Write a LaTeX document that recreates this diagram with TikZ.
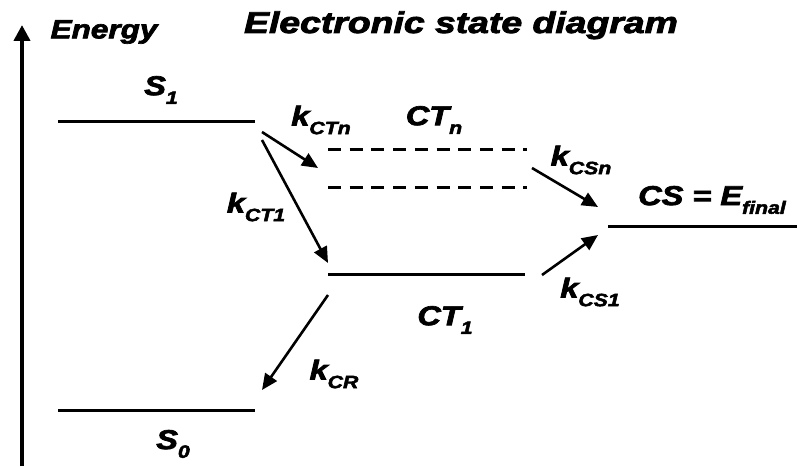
\documentclass[tikz,border=0pt]{standalone}
\usepackage{fontspec}
\usepackage{graphicx}
\setmainfont{Liberation Sans}[BoldItalicFeatures={FakeBold=2.5}]
\usetikzlibrary{arrows.meta}
\newcommand\sbs[1]{\raisebox{-0.32em}{\fontsize{17}{17}\selectfont #1}}
\newcommand\lbl[1]{\scalebox{1.25}[1.05]{\bfseries\itshape #1}}
\tikzset{
  level/.style={line width=3pt},
  dlevel/.style={line width=3pt, dash pattern=on 13pt off 8.7pt},
  rate/.style={line width=2.6pt, -{Triangle[length=16pt,width=14pt]}},
  txt/.style={inner sep=0pt, font=\fontsize{26}{26}\selectfont},
}
\begin{document}
\begin{tikzpicture}[x=1pt,y=1pt]
\useasboundingbox (0,0) rectangle (797,466);
% axis
\coordinate (axb) at (22,0);
\coordinate (axt) at (22,441);
\draw[line width=4pt, -{Triangle[length=16pt,width=16pt]}] (axb) -- (axt);
\node[txt, font=\fontsize{25}{25}\selectfont] (energy) at (104,434) {\scalebox{1.26}[1.05]{\bfseries\itshape Energy}};
\node[txt, font=\fontsize{30}{30}\selectfont, anchor=base] (title) at (461,433) {\scalebox{1.245}[1.0]{\bfseries\itshape Electronic state diagram}};
% levels
\coordinate (s1l) at (58,344); \coordinate (s1r) at (255,344);
\coordinate (s0l) at (58,56); \coordinate (s0r) at (255,56);
\coordinate (cnal) at (328,316); \coordinate (cnar) at (527,316);
\coordinate (cnbl) at (328,278); \coordinate (cnbr) at (527,278);
\coordinate (c1l) at (328,191); \coordinate (c1r) at (525,191);
\coordinate (csl) at (608,239); \coordinate (csr) at (797,239);
\draw[level] (s1l) -- (s1r);
\draw[level] (s0l) -- (s0r);
\draw[dlevel] (cnal) -- (cnar);
\draw[dlevel] (cnbl) -- (cnbr);
\draw[level] (c1l) -- (c1r);
\draw[level] (csl) -- (csr);
% arrow ends
\coordinate (a1s) at (262,334); \coordinate (a1e) at (318,298);
\coordinate (a2s) at (262,326); \coordinate (a2e) at (328,203);
\coordinate (a3s) at (532,298); \coordinate (a3e) at (598,259);
\coordinate (a4s) at (542,191); \coordinate (a4e) at (598,231);
\coordinate (a5s) at (328,171); \coordinate (a5e) at (262,76);
\draw[rate] (a1s) -- (a1e);
\draw[rate] (a2s) -- (a2e);
\draw[rate] (a3s) -- (a3e);
\draw[rate] (a4s) -- (a4e);
\draw[rate] (a5s) -- (a5e);
% labels
\node[txt] (ls1) at (161,376) {\lbl{S\sbs{1}}};
\node[txt] (ls0) at (173,22) {\lbl{S\sbs{0}}};
\node[txt] (lctn) at (321,346) {\lbl{k\sbs{CTn}}};
\node[txt] (lctnn) at (434,346) {\lbl{CT\sbs{n}}};
\node[txt] (lct1) at (256,259) {\lbl{k\sbs{CT1}}};
\node[txt] (lcsn) at (581,306) {\lbl{k\sbs{CSn}}};
\node[txt] (lcs) at (712,266) {\lbl{CS = E\sbs{final}}};
\node[txt] (lcs1) at (590,174) {\lbl{k\sbs{CS1}}};
\node[txt] (lct1n) at (445,146) {\lbl{CT\sbs{1}}};
\node[txt] (lcr) at (334,92) {\lbl{k\sbs{CR}}};
\end{tikzpicture}
\end{document}
